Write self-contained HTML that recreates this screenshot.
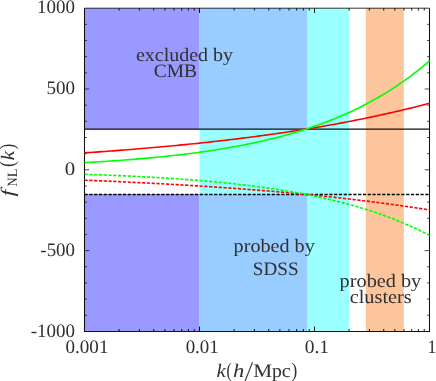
<!DOCTYPE html>
<html><head><meta charset="utf-8">
<style>
html,body{margin:0;padding:0;background:#fff;}
body{width:436px;height:381px;overflow:hidden;}
svg{display:block;}
text{font-family:"Liberation Serif",serif;fill:#303030;text-rendering:geometricPrecision;}
</style></head><body>
<svg width="436" height="381" viewBox="0 0 436 381">
<rect width="436" height="381" fill="#fff"/>
<rect x="199.50" y="8.2" width="149.62" height="323.20" fill="#99ffff"/>
<rect x="365.8" y="8.2" width="38.00" height="323.20" fill="#fcc59b"/>
<rect x="84.5" y="8.2" width="115.00" height="121.20" fill="#9999ff"/>
<rect x="84.5" y="194.04" width="115.00" height="137.36" fill="#9999ff"/>
<rect x="199.50" y="8.2" width="107.50" height="121.20" fill="#99ccff"/>
<rect x="199.50" y="194.04" width="107.50" height="137.36" fill="#99ccff"/>
<path d="M84.5 8.2 H429.5" fill="none" stroke="#000" stroke-width="1.0" opacity="0.8"/>
<path d="M84.5 8.2 V331.4 H429.5 V8.2" fill="none" stroke="#111" stroke-width="1.05"/>
<path d="M119.12 331.40 v-2.40 M119.12 8.20 v2.40 M139.37 331.40 v-2.40 M139.37 8.20 v2.40 M153.74 331.40 v-2.40 M153.74 8.20 v2.40 M164.88 331.40 v-2.40 M164.88 8.20 v2.40 M173.99 331.40 v-2.40 M173.99 8.20 v2.40 M181.69 331.40 v-2.40 M181.69 8.20 v2.40 M188.36 331.40 v-2.40 M188.36 8.20 v2.40 M194.24 331.40 v-2.40 M194.24 8.20 v2.40 M199.50 331.40 v-4.80 M199.50 8.20 v4.80 M234.12 331.40 v-2.40 M234.12 8.20 v2.40 M254.37 331.40 v-2.40 M254.37 8.20 v2.40 M268.74 331.40 v-2.40 M268.74 8.20 v2.40 M279.88 331.40 v-2.40 M279.88 8.20 v2.40 M288.99 331.40 v-2.40 M288.99 8.20 v2.40 M296.69 331.40 v-2.40 M296.69 8.20 v2.40 M303.36 331.40 v-2.40 M303.36 8.20 v2.40 M309.24 331.40 v-2.40 M309.24 8.20 v2.40 M314.50 331.40 v-4.80 M314.50 8.20 v4.80 M349.12 331.40 v-2.40 M349.12 8.20 v2.40 M369.37 331.40 v-2.40 M369.37 8.20 v2.40 M383.74 331.40 v-2.40 M383.74 8.20 v2.40 M394.88 331.40 v-2.40 M394.88 8.20 v2.40 M403.99 331.40 v-2.40 M403.99 8.20 v2.40 M411.69 331.40 v-2.40 M411.69 8.20 v2.40 M418.36 331.40 v-2.40 M418.36 8.20 v2.40 M424.24 331.40 v-2.40 M424.24 8.20 v2.40" fill="none" stroke="#000" stroke-width="0.9"/>
<path d="M84.50 315.24 h2.40 M429.50 315.24 h-2.40 M84.50 299.08 h2.40 M429.50 299.08 h-2.40 M84.50 282.92 h2.40 M429.50 282.92 h-2.40 M84.50 266.76 h2.40 M429.50 266.76 h-2.40 M84.50 250.60 h4.80 M429.50 250.60 h-4.80 M84.50 234.44 h2.40 M429.50 234.44 h-2.40 M84.50 218.28 h2.40 M429.50 218.28 h-2.40 M84.50 202.12 h2.40 M429.50 202.12 h-2.40 M84.50 185.96 h2.40 M429.50 185.96 h-2.40 M84.50 169.80 h4.80 M429.50 169.80 h-4.80 M84.50 153.64 h2.40 M429.50 153.64 h-2.40 M84.50 137.48 h2.40 M429.50 137.48 h-2.40 M84.50 121.32 h2.40 M429.50 121.32 h-2.40 M84.50 105.16 h2.40 M429.50 105.16 h-2.40 M84.50 89.00 h4.80 M429.50 89.00 h-4.80 M84.50 72.84 h2.40 M429.50 72.84 h-2.40 M84.50 56.68 h2.40 M429.50 56.68 h-2.40 M84.50 40.52 h2.40 M429.50 40.52 h-2.40 M84.50 24.36 h2.40 M429.50 24.36 h-2.40" fill="none" stroke="#000" stroke-width="0.7"/>
<g transform="translate(0 -0.3)"><path d="M84.5 129.40 H429.5" stroke="#111" stroke-width="1.3" fill="none"/>
<path d="M84.50 153.16 L87.37 152.97 L90.25 152.77 L93.13 152.57 L96.00 152.38 L98.88 152.17 L101.75 151.97 L104.62 151.76 L107.50 151.55 L110.38 151.34 L113.25 151.13 L116.12 150.91 L119.00 150.69 L121.88 150.47 L124.75 150.25 L127.62 150.02 L130.50 149.79 L133.37 149.56 L136.25 149.33 L139.12 149.09 L142.00 148.85 L144.88 148.61 L147.75 148.36 L150.62 148.11 L153.50 147.86 L156.38 147.61 L159.25 147.35 L162.12 147.09 L165.00 146.83 L167.88 146.56 L170.75 146.29 L173.62 146.02 L176.50 145.75 L179.38 145.47 L182.25 145.19 L185.12 144.90 L188.00 144.61 L190.88 144.32 L193.75 144.03 L196.62 143.73 L199.50 143.43 L202.38 143.12 L205.25 142.81 L208.12 142.50 L211.00 142.18 L213.88 141.86 L216.75 141.54 L219.62 141.21 L222.50 140.88 L225.38 140.55 L228.25 140.21 L231.12 139.87 L234.00 139.52 L236.88 139.17 L239.75 138.81 L242.62 138.46 L245.50 138.09 L248.38 137.73 L251.25 137.35 L254.13 136.98 L257.00 136.60 L259.88 136.21 L262.75 135.82 L265.62 135.43 L268.50 135.03 L271.38 134.63 L274.25 134.22 L277.12 133.81 L280.00 133.39 L282.88 132.97 L285.75 132.55 L288.62 132.12 L291.50 131.68 L294.38 131.24 L297.25 130.79 L300.12 130.34 L303.00 129.88 L305.88 129.42 L308.75 128.95 L311.62 128.48 L314.50 128.00 L317.38 127.52 L320.25 127.03 L323.12 126.53 L326.00 126.03 L328.88 125.52 L331.75 125.01 L334.62 124.49 L337.50 123.97 L340.38 123.44 L343.25 122.90 L346.12 122.36 L349.00 121.81 L351.88 121.25 L354.75 120.69 L357.62 120.12 L360.50 119.55 L363.37 118.96 L366.25 118.38 L369.12 117.78 L372.00 117.18 L374.88 116.57 L377.75 115.95 L380.63 115.33 L383.50 114.70 L386.38 114.06 L389.25 113.41 L392.12 112.76 L395.00 112.10 L397.88 111.43 L400.75 110.76 L403.62 110.07 L406.50 109.38 L409.38 108.68 L412.25 107.98 L415.12 107.26 L418.00 106.53 L420.87 105.80 L423.75 105.06 L426.62 104.31 L429.50 103.55" stroke="#ff0000" stroke-width="1.6" fill="none"/>
<path d="M84.50 162.95 L87.37 162.79 L90.25 162.62 L93.13 162.46 L96.00 162.28 L98.88 162.11 L101.75 161.93 L104.62 161.75 L107.50 161.56 L110.38 161.37 L113.25 161.17 L116.12 160.97 L119.00 160.76 L121.88 160.55 L124.75 160.34 L127.62 160.12 L130.50 159.89 L133.37 159.66 L136.25 159.43 L139.12 159.18 L142.00 158.94 L144.88 158.68 L147.75 158.43 L150.62 158.16 L153.50 157.89 L156.38 157.61 L159.25 157.33 L162.12 157.04 L165.00 156.74 L167.88 156.44 L170.75 156.12 L173.62 155.81 L176.50 155.48 L179.38 155.15 L182.25 154.80 L185.12 154.46 L188.00 154.10 L190.88 153.73 L193.75 153.36 L196.62 152.98 L199.50 152.58 L202.38 152.18 L205.25 151.77 L208.12 151.35 L211.00 150.92 L213.88 150.48 L216.75 150.03 L219.62 149.57 L222.50 149.10 L225.38 148.62 L228.25 148.13 L231.12 147.62 L234.00 147.10 L236.88 146.58 L239.75 146.03 L242.62 145.48 L245.50 144.91 L248.38 144.33 L251.25 143.74 L254.13 143.13 L257.00 142.51 L259.88 141.88 L262.75 141.23 L265.62 140.56 L268.50 139.88 L271.38 139.18 L274.25 138.47 L277.12 137.74 L280.00 136.99 L282.88 136.23 L285.75 135.45 L288.62 134.65 L291.50 133.83 L294.38 132.99 L297.25 132.13 L300.12 131.26 L303.00 130.36 L305.88 129.44 L308.75 128.50 L311.62 127.54 L314.50 126.55 L317.38 125.55 L320.25 124.52 L323.12 123.46 L326.00 122.38 L328.88 121.28 L331.75 120.15 L334.62 118.99 L337.50 117.81 L340.38 116.60 L343.25 115.36 L346.12 114.09 L349.00 112.79 L351.88 111.46 L354.75 110.10 L357.62 108.71 L360.50 107.29 L363.37 105.83 L366.25 104.34 L369.12 102.82 L372.00 101.26 L374.88 99.66 L377.75 98.03 L380.63 96.36 L383.50 94.65 L386.38 92.90 L389.25 91.11 L392.12 89.27 L395.00 87.40 L397.88 85.48 L400.75 83.51 L403.62 81.50 L406.50 79.45 L409.38 77.34 L412.25 75.19 L415.12 72.98 L418.00 70.73 L420.87 68.42 L423.75 66.06 L426.62 63.64 L429.50 61.17" stroke="#00ff00" stroke-width="1.6" fill="none"/></g>
<g transform="translate(0 0.4)"><path d="M84.5 194.04 H429.5" stroke="#000" stroke-width="1.6" fill="none" stroke-dasharray="3.2 1.6"/>
<path d="M84.50 179.78 L87.37 179.90 L90.25 180.02 L93.13 180.14 L96.00 180.25 L98.88 180.38 L101.75 180.50 L104.62 180.62 L107.50 180.75 L110.38 180.87 L113.25 181.00 L116.12 181.13 L119.00 181.26 L121.88 181.40 L124.75 181.53 L127.62 181.67 L130.50 181.80 L133.37 181.94 L136.25 182.08 L139.12 182.23 L142.00 182.37 L144.88 182.51 L147.75 182.66 L150.62 182.81 L153.50 182.96 L156.38 183.11 L159.25 183.27 L162.12 183.42 L165.00 183.58 L167.88 183.74 L170.75 183.90 L173.62 184.07 L176.50 184.23 L179.38 184.40 L182.25 184.57 L185.12 184.74 L188.00 184.91 L190.88 185.09 L193.75 185.26 L196.62 185.44 L199.50 185.62 L202.38 185.81 L205.25 185.99 L208.12 186.18 L211.00 186.37 L213.88 186.56 L216.75 186.76 L219.62 186.95 L222.50 187.15 L225.38 187.35 L228.25 187.55 L231.12 187.76 L234.00 187.97 L236.88 188.18 L239.75 188.39 L242.62 188.61 L245.50 188.82 L248.38 189.04 L251.25 189.27 L254.13 189.49 L257.00 189.72 L259.88 189.95 L262.75 190.19 L265.62 190.42 L268.50 190.66 L271.38 190.90 L274.25 191.15 L277.12 191.39 L280.00 191.64 L282.88 191.90 L285.75 192.15 L288.62 192.41 L291.50 192.67 L294.38 192.94 L297.25 193.21 L300.12 193.48 L303.00 193.75 L305.88 194.03 L308.75 194.31 L311.62 194.59 L314.50 194.88 L317.38 195.17 L320.25 195.46 L323.12 195.76 L326.00 196.06 L328.88 196.37 L331.75 196.67 L334.62 196.98 L337.50 197.30 L340.38 197.62 L343.25 197.94 L346.12 198.27 L349.00 198.59 L351.88 198.93 L354.75 199.27 L357.62 199.61 L360.50 199.95 L363.37 200.30 L366.25 200.65 L369.12 201.01 L372.00 201.37 L374.88 201.74 L377.75 202.11 L380.63 202.48 L383.50 202.86 L386.38 203.24 L389.25 203.63 L392.12 204.02 L395.00 204.42 L397.88 204.82 L400.75 205.23 L403.62 205.64 L406.50 206.05 L409.38 206.47 L412.25 206.89 L415.12 207.32 L418.00 207.76 L420.87 208.20 L423.75 208.64 L426.62 209.09 L429.50 209.55" stroke="#ff0000" stroke-width="1.6" fill="none" stroke-dasharray="3.2 1.6"/>
<path d="M84.50 173.91 L87.37 174.01 L90.25 174.11 L93.13 174.21 L96.00 174.31 L98.88 174.41 L101.75 174.52 L104.62 174.63 L107.50 174.74 L110.38 174.86 L113.25 174.98 L116.12 175.10 L119.00 175.22 L121.88 175.35 L124.75 175.48 L127.62 175.61 L130.50 175.74 L133.37 175.88 L136.25 176.02 L139.12 176.17 L142.00 176.32 L144.88 176.47 L147.75 176.62 L150.62 176.78 L153.50 176.95 L156.38 177.11 L159.25 177.28 L162.12 177.46 L165.00 177.64 L167.88 177.82 L170.75 178.01 L173.62 178.20 L176.50 178.39 L179.38 178.59 L182.25 178.80 L185.12 179.01 L188.00 179.22 L190.88 179.44 L193.75 179.67 L196.62 179.89 L199.50 180.13 L202.38 180.37 L205.25 180.62 L208.12 180.87 L211.00 181.13 L213.88 181.39 L216.75 181.66 L219.62 181.94 L222.50 182.22 L225.38 182.51 L228.25 182.80 L231.12 183.11 L234.00 183.42 L236.88 183.73 L239.75 184.06 L242.62 184.39 L245.50 184.73 L248.38 185.08 L251.25 185.43 L254.13 185.80 L257.00 186.17 L259.88 186.55 L262.75 186.94 L265.62 187.34 L268.50 187.75 L271.38 188.17 L274.25 188.60 L277.12 189.04 L280.00 189.48 L282.88 189.94 L285.75 190.41 L288.62 190.89 L291.50 191.38 L294.38 191.89 L297.25 192.40 L300.12 192.93 L303.00 193.46 L305.88 194.02 L308.75 194.58 L311.62 195.16 L314.50 195.75 L317.38 196.35 L320.25 196.97 L323.12 197.60 L326.00 198.25 L328.88 198.91 L331.75 199.59 L334.62 200.29 L337.50 201.00 L340.38 201.72 L343.25 202.47 L346.12 203.23 L349.00 204.01 L351.88 204.80 L354.75 205.62 L357.62 206.45 L360.50 207.31 L363.37 208.18 L366.25 209.07 L369.12 209.99 L372.00 210.92 L374.88 211.88 L377.75 212.86 L380.63 213.87 L383.50 214.89 L386.38 215.94 L389.25 217.02 L392.12 218.12 L395.00 219.24 L397.88 220.39 L400.75 221.57 L403.62 222.78 L406.50 224.01 L409.38 225.28 L412.25 226.57 L415.12 227.89 L418.00 229.24 L420.87 230.63 L423.75 232.04 L426.62 233.49 L429.50 234.98" stroke="#00ff00" stroke-width="1.6" fill="none" stroke-dasharray="3.2 1.6"/></g>
<g opacity="0.999">
<text transform="translate(37.09 13.30) scale(0.9992 1.0000)" font-size="19">1000</text>
<text transform="translate(46.46 94.10) scale(1.0038 1.0000)" font-size="19">500</text>
<text transform="translate(64.66 175.10) scale(1.1028 1.0000)" font-size="19">0</text>
<text transform="translate(40.34 255.70) scale(0.9958 1.0000)" font-size="19">-500</text>
<text transform="translate(30.74 336.80) scale(0.9991 1.0000)" font-size="19">-1000</text>
<text transform="translate(65.44 352.50) scale(1.0061 1.0000)" font-size="19">0.001</text>
<text transform="translate(185.64 352.50) scale(0.9984 1.0000)" font-size="19">0.01</text>
<text transform="translate(304.72 352.50) scale(1.0252 1.0000)" font-size="19">0.1</text>
<text transform="translate(427.61 352.50) scale(0.9323 1.0000)" font-size="19">1</text>
<text transform="translate(136.00 61.40) scale(1.0504 1.0000)" font-size="19">excluded by</text>
<text transform="translate(153.72 77.30) scale(1.0255 1.0000)" font-size="19">CMB</text>
<text transform="translate(233.60 251.90) scale(1.0605 1.0000)" font-size="19">probed by</text>
<text transform="translate(252.86 274.90) scale(1.0062 1.0000)" font-size="19">SDSS</text>
<text transform="translate(339.60 287.20) scale(1.0671 1.0000)" font-size="19">probed by</text>
<text transform="translate(349.69 303.40) scale(1.0685 1.0000)" font-size="19">clusters</text>
<text transform="translate(216.47 376.50) scale(1.1016 1.0000)" font-size="19" font-style="italic">k</text>
<text transform="translate(226.49 376.50) scale(0.8256 1.0908)" font-size="19">(</text>
<text transform="translate(232.91 376.50) scale(1.1889 1.0000)" font-size="19" font-style="italic">h</text>
<path d="M245.0 381.3 L252.5 362.3" stroke="#303030" stroke-width="1.05" fill="none"/>
<text transform="translate(253.36 376.50) scale(1.1160 1.0000)" font-size="19">M</text>
<text transform="translate(272.10 376.50) scale(1.0408 1.0000)" font-size="19">p</text>
<text transform="translate(281.69 376.50) scale(1.0667 1.0000)" font-size="19">c</text>
<text transform="translate(291.38 376.50) scale(0.9109 1.0908)" font-size="19">)</text>
<text transform="translate(14.30 196.45) rotate(-90) scale(1.3158 1.0000)" font-size="19" font-style="italic">f</text>
<text transform="translate(17.30 186.38) rotate(-90) scale(0.9287 1.0484)" font-size="13.5">N</text>
<text transform="translate(17.30 177.23) rotate(-90) scale(1.0541 1.0484)" font-size="13.5">L</text>
<text transform="translate(14.30 166.89) rotate(-90) scale(0.9288 1.0908)" font-size="19">(</text>
<text transform="translate(14.30 160.33) rotate(-90) scale(1.1016 1.0000)" font-size="19" font-style="italic">k</text>
<text transform="translate(14.30 149.28) rotate(-90) scale(0.8502 1.0908)" font-size="19">)</text>
</g>
</svg>
</body></html>
